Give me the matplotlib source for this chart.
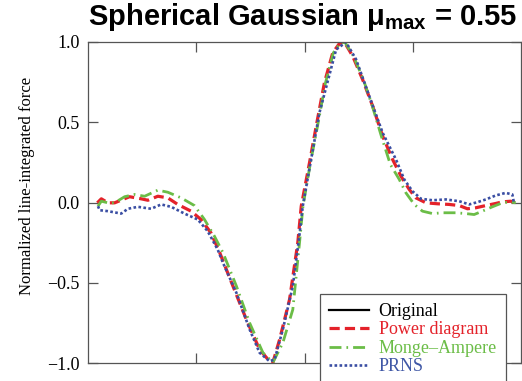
import matplotlib
matplotlib.use("Agg")
import matplotlib.pyplot as plt
from matplotlib.lines import Line2D

plt.rcParams["font.family"] = "Liberation Serif"
plt.rcParams["mathtext.fontset"] = "custom"
plt.rcParams["mathtext.bf"] = "Liberation Sans:bold"
plt.rcParams["mathtext.rm"] = "Liberation Sans"

# Normalized line-integrated force along the profile
x_power = [0.086, 0.123, 0.184, 0.246, 0.304, 0.384, 0.491, 0.553, 0.645, 0.737,
           0.829, 0.952, 1.044, 1.136, 1.217, 1.339, 1.463, 1.585, 1.677, 1.708,
           1.770, 1.862, 1.938, 1.970, 2.046, 2.108, 2.184, 2.261, 2.323, 2.369,
           2.445, 2.537, 2.630, 2.722, 2.814, 2.891, 2.968, 3.029, 3.122, 3.229,
           3.336, 3.429, 3.505, 3.582, 3.675, 3.767, 3.828, 3.905, 3.951]
y_power = [-0.002, 0.023, -0.002, -0.002, 0.014, 0.036, 0.023, 0.014, 0.039, 0.029,
           -0.012, -0.054, -0.106, -0.189, -0.313, -0.521, -0.729, -0.916, -0.989, -0.997,
           -0.854, -0.604, -0.251, -0.023, 0.247, 0.475, 0.746, 0.933, 0.991, 0.999,
           0.912, 0.766, 0.600, 0.413, 0.268, 0.164, 0.081, 0.029, -0.002, -0.008,
           -0.012, -0.019, -0.039, -0.033, -0.019, -0.006, 0.004, 0.008, -0.002]

x_monge = [0.092, 0.123, 0.184, 0.246, 0.338, 0.430, 0.523, 0.645, 0.737, 0.860,
           0.983, 1.076, 1.168, 1.247, 1.371, 1.493, 1.616, 1.708, 1.800, 1.892,
           1.954, 1.986, 2.055, 2.120, 2.194, 2.267, 2.327, 2.373, 2.452, 2.544,
           2.627, 2.710, 2.793, 2.876, 2.937, 3.014, 3.090, 3.183, 3.275, 3.398,
           3.490, 3.567, 3.643, 3.735, 3.828, 3.905, 3.951]
y_monge = [-0.023, 0.008, -0.002, -0.002, 0.036, 0.050, 0.039, 0.077, 0.064, 0.029,
           -0.019, -0.106, -0.210, -0.313, -0.521, -0.750, -0.936, -0.997, -0.874, -0.667,
           -0.251, -0.023, 0.247, 0.475, 0.746, 0.933, 0.991, 0.999, 0.912, 0.766,
           0.600, 0.413, 0.237, 0.143, 0.060, -0.012, -0.054, -0.069, -0.064, -0.064,
           -0.069, -0.075, -0.054, -0.027, -0.002, 0.004, -0.002]

x_prns = [0.092, 0.108, 0.184, 0.307, 0.369, 0.461, 0.583, 0.676, 0.768, 0.891,
          1.014, 1.106, 1.198, 1.247, 1.371, 1.493, 1.585, 1.677, 1.724, 1.800,
          1.892, 1.948, 1.984, 2.138, 2.292, 2.384, 2.477, 2.599, 2.722, 2.845,
          2.922, 2.998, 3.076, 3.182, 3.306, 3.429, 3.521, 3.597, 3.675, 3.767,
          3.859, 3.920, 3.935]
y_prns = [-0.023, -0.048, -0.054, -0.069, -0.039, -0.027, -0.039, -0.012, -0.027, -0.069,
          -0.106, -0.179, -0.293, -0.376, -0.563, -0.791, -0.936, -0.989, -0.978, -0.791,
          -0.521, -0.231, -0.023, 0.559, 0.953, 0.999, 0.891, 0.662, 0.434, 0.268,
          0.143, 0.070, 0.023, 0.014, 0.019, 0.008, -0.012, 0.002, 0.019, 0.044,
          0.060, 0.050, -0.002]

labels = ["Original", "Power diagram", "Monge\u2013Ampere", "PRNS"]
colors = ["black", "#e4222a", "#6bbd47", "#3a4ea3"]
text_colors = ["black", "#e4222a", "#6bbd47", "#3f57a6"]
styles = ["-", (0, (3.2, 1.6)), (0, (4.3, 1.8, 0.6, 1.8)), (0, (1, 0.9))]
widths = [1.6, 2.3, 2.0, 1.9]

fig = plt.figure(figsize=(5.22, 3.81), dpi=100)
ax = fig.add_axes([88 / 522, 18 / 381, 433 / 522, 321 / 381])

ax.plot(x_power, y_power, color=colors[1], linestyle=styles[1], lw=widths[1])
ax.plot(x_monge, y_monge, color=colors[2], linestyle=styles[2], lw=widths[2])
ax.plot(x_prns, y_prns, color=colors[3], linestyle=styles[3], lw=widths[3])

ax.set_xlim(0, 4)
ax.set_ylim(-1, 1)
ax.set_xticks([1, 2, 3])
ax.set_yticks([-1.0, -0.5, 0.0, 0.5, 1.0])
ax.set_yticklabels(["\u22121.0", "\u22120.5", "0.0", "0.5", "1.0"])
ax.tick_params(direction="in", length=7, width=0.9, color="#555555",
               top=True, right=True, labelbottom=False, labelsize=13, pad=6)
for s in ax.spines.values():
    s.set_color("#555555")
    s.set_linewidth(0.9)

fig.text(27 / 522, 1 - 186 / 381, "Normalized line-integrated force",
         fontsize=12, rotation=90, ha="center", va="center")

fig.text(303 / 522, 1 - 25 / 381, "Spherical Gaussian \u03bc$_{\\mathbf{max}}$ = 0.55",
         family="Liberation Sans", weight="bold", fontsize=21,
         ha="center", va="baseline")

handles = [Line2D([], [], color=c, linestyle=ls, lw=w)
           for c, ls, w in zip(colors, styles, widths)]
leg = fig.legend(handles, labels, loc="upper left",
                 bbox_to_anchor=(320 / 522, 1 - 294 / 381),
                 bbox_transform=fig.transFigure, borderaxespad=0,
                 fontsize=13, handlelength=2.2, handletextpad=0.55,
                 labelspacing=0.08, borderpad=0.5, fancybox=False,
                 framealpha=1, edgecolor="#555555")
leg.get_frame().set_linewidth(0.9)
for t, c in zip(leg.get_texts(), text_colors):
    t.set_color(c)

fig.savefig("out.png", dpi=100)
